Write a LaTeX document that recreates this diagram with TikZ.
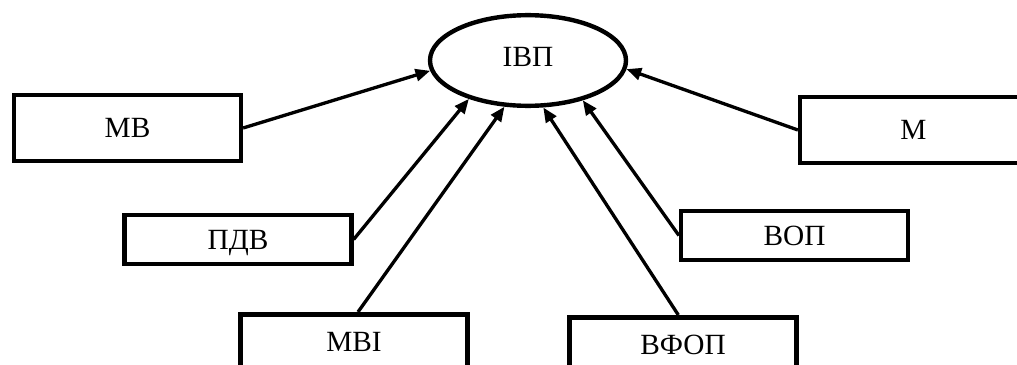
\documentclass[tikz,border=0pt]{standalone}
\usepackage{fontspec}
\setmainfont{Liberation Serif}
\usetikzlibrary{arrows.meta,shapes.geometric}
\begin{document}
\begin{tikzpicture}[x=0.75pt,y=-0.75pt,
  box/.style={draw, line width=3.4pt, rectangle, inner sep=0pt, minimum width=170pt, text depth=0pt, font=\fontsize{22}{26}\selectfont},
  tall/.style={box, minimum height=49.5pt},
  short/.style={box, minimum height=36.5pt},
  cut/.style={box, minimum height=41.6pt},
  oval/.style={draw, ellipse, line width=3.3pt, inner sep=0pt, minimum width=147pt, minimum height=68pt, font=\fontsize{22}{26}\selectfont},
  conn/.style={line width=2.5pt, -{Triangle[length=11pt,width=9pt]}}]
\useasboundingbox (0,0) rectangle (1017,364);
\clip (0,0) rectangle (1017,364);
\fill[white] (0,0) rectangle (1017,364);
\node[oval] (ivp) at (528,60.5) {\raisebox{5pt}{ІВП}};
\node[tall] (mb) at (127.5,128) {МВ};
\node[tall] (m) at (913.5,130) {М};
\node[short] (pdv) at (238,239.5) {ПДВ};
\node[short] (vop) at (794.5,235.5) {ВОП};
\node[cut] (mbi) at (354,342) {МВІ};
\node[cut] (vfop) at (683,345) {ВФОП};
\draw[conn] (mb.east) -- (ivp.186);
\draw[conn] (pdv.east) -- (ivp.213);
\draw[conn] ([xshift=3pt]mbi.north) -- (ivp.243);
\draw[conn] ([xshift=-3.5pt]vfop.north) -- (ivp.288);
\draw[conn] (vop.west) -- (ivp.324);
\draw[conn] (m.west) -- (ivp.355);
\end{tikzpicture}
\end{document}
